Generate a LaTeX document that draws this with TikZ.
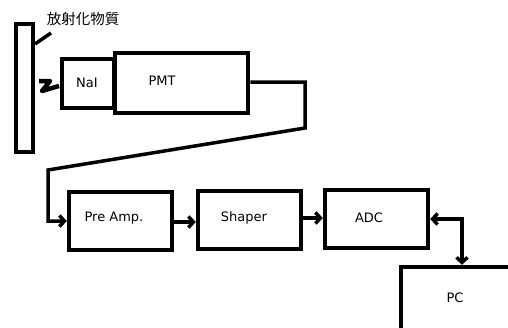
\documentclass[tikz,border=0pt]{standalone}
\usepackage{fontspec}
\setmainfont{DejaVu Sans}
\newfontfamily\cjk{Noto Sans CJK JP}
\usetikzlibrary{arrows.meta}
\begin{document}
\begin{tikzpicture}[x=1pt,y=-1pt,
  box/.style={draw=black, line width=4.5pt, rectangle, inner sep=0pt},
  lbl/.style={font=\fontsize{13}{15}\selectfont, inner sep=0pt},
  wire/.style={draw=black, line width=3.5pt},
  barb/.tip={Straight Barb[length=5pt,width=11pt]},
  tip/.style={-barb},
]
\useasboundingbox (0,0) rectangle (508,327);
\clip (0,0) rectangle (508,327);
% source
\node[box, minimum width=17pt, minimum height=128pt] (src) at (24.5,88) {};
\node[font=\cjk\fontsize{14.5}{16}\selectfont, inner sep=0pt] (srclbl) at (83,19) {放射化物質};
\coordinate (lbltip) at (51,33);
\draw[wire, line width=3.5pt] (35,44) -- (lbltip);
% squiggle
\coordinate (sq1) at (39,81);
\coordinate (sq2) at (59,86);
\draw[wire, line width=4.5pt, line join=round] (sq1) -- (50,81) -- (42,91) -- (52,88) -- (sq2);
% detector
\node[box, minimum width=52pt, minimum height=49pt] (nai) at (88,83.5) {};
\node[lbl] (nailbl) at (87,83) {NaI};
\node[box, minimum width=133pt, minimum height=60pt] (pmt) at (181.5,83) {};
\node[lbl] (pmtlbl) at (162,81) {PMT};
% electronics
\node[box, minimum width=103pt, minimum height=58pt] (pre) at (120.5,221) {};
\node[lbl] (prelbl) at (114,218) {Pre Amp.};
\node[box, minimum width=103pt, minimum height=58pt] (shp) at (249.5,220) {};
\node[lbl] (shplbl) at (244,218) {Shaper};
\node[box, minimum width=103pt, minimum height=58pt] (adc) at (376.5,219) {};
\node[lbl] (adclbl) at (369,218) {ADC};
\node[box, minimum width=116pt, minimum height=70pt] (pc) at (459,302) {};
\node[lbl] (pclbl) at (455,298) {PC};
% connectors
\coordinate (c1) at (305,82);
\coordinate (c2) at (305,128);
\coordinate (c3) at (48,170);
\draw[wire, tip, line join=miter] (pmt.east |- c1) -- (c1) -- (c2) -- (c3) -- (c3 |- pre.west) -- (pre.west);
\draw[wire, tip] (pre.east |- 0,222) -- (shp.west |- 0,222);
\draw[wire, tip] (shp.east |- 0,218) -- (adc.west |- 0,218);
\coordinate (c4) at (462,219);
\draw[wire, barb-barb] (adc.east |- c4) -- (c4) -- (c4 |- pc.north);
\end{tikzpicture}
\end{document}
